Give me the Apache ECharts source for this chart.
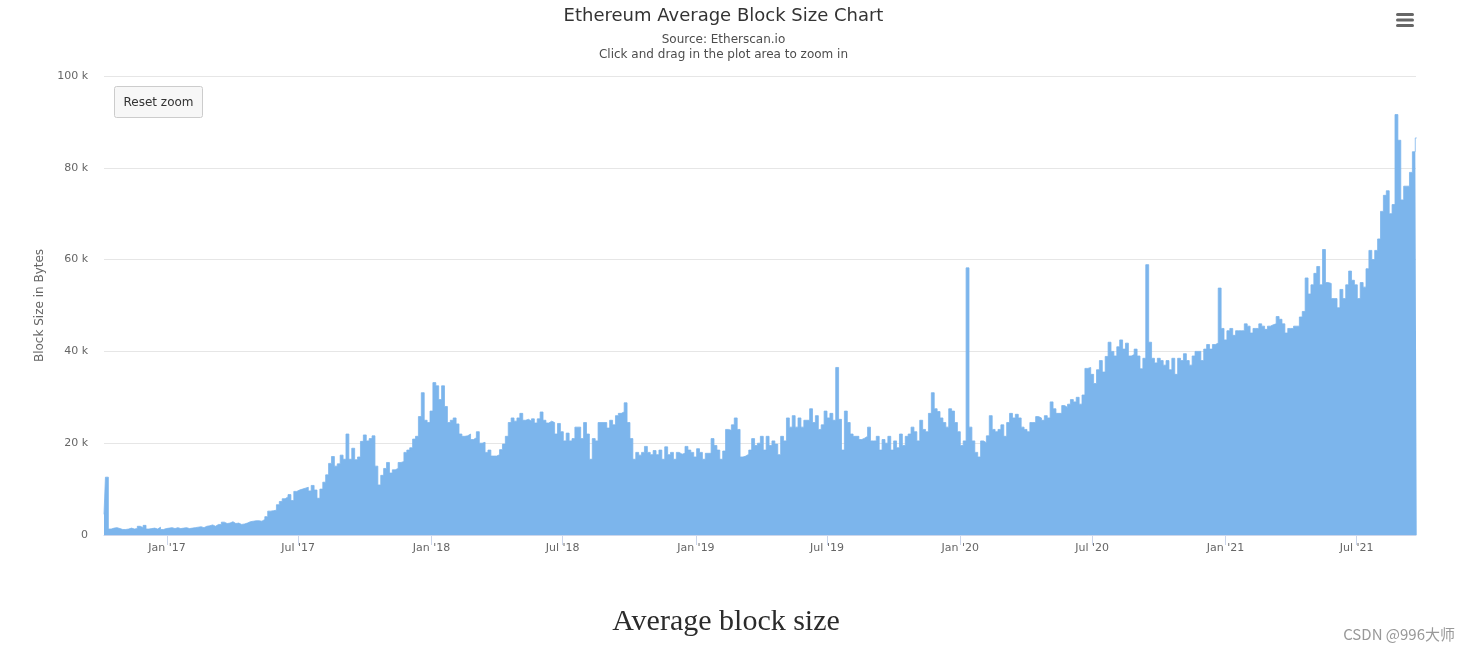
<!DOCTYPE html>
<html>
<head>
<meta charset="utf-8">
<script src="https://cdn.jsdelivr.net/npm/echarts@6/dist/echarts.min.js"></script>
<style>
html, body { margin: 0; padding: 0; background: #ffffff; }
#chart { width: 1469px; height: 650px; }
</style>
</head>
<body>
<div id="chart"></div>
<script>
// ---------- texts ----------
const chartTitle = 'Ethereum Average Block Size Chart';
const subtitleLines = ['Source: Etherscan.io', 'Click and drag in the plot area to zoom in'];
const yAxisTitle = 'Block Size in Bytes';
const resetZoomLabel = 'Reset zoom';
const captionText = 'Average block size';
const watermarkText = 'CSDN @996大师';

// ---------- axis ticks ----------
const yTickValuesK = [0, 20, 40, 60, 80, 100];
const yTickLabels = ['0', '20 k', '40 k', '60 k', '80 k', '100 k'];
const xTickDates = ['2017-01-01', '2017-07-01', '2018-01-01', '2018-07-01', '2019-01-01',
                    '2019-07-01', '2020-01-01', '2020-07-01', '2021-01-01', '2021-07-01'];
const xTickLabels = ["Jan '17", "Jul '17", "Jan '18", "Jul '18", "Jan '19",
                     "Jul '19", "Jan '20", "Jul '20", "Jan '21", "Jul '21"];
const xRangeStart = '2016-10-06';
const xRangeEnd = '2021-09-21';

// ---------- data: average block size (thousands of bytes), one reading every 4 days from 2016-10-06 ----------
const seriesStartDate = '2016-10-06';
const seriesStepDays = 4;
const avgBlockSizeK = [
  // 2016-10 .. 2017-05
  4.5, 12.6, 1.3, 1.5, 1.6, 1.4, 1.2, 1.2, 1.3, 1.5,
  1.3, 1.4, 1.9, 1.6, 2.1, 1.3, 1.4, 1.5, 1.3, 1.7,
  1.2, 1.4, 1.5, 1.6, 1.4, 1.6, 1.4, 1.5, 1.6, 1.4,
  1.5, 1.6, 1.7, 1.8, 1.6, 1.9, 2.0, 2.2, 1.9, 2.3,
  2.3, 2.8, 2.5, 2.6, 2.9, 2.5, 2.6, 2.3, 2.4, 2.6,
  2.9,
  // 2017-05 .. 2017-11
  3.0, 3.1, 3.1, 3.0, 3.4, 4.0, 5.2, 5.3, 5.4, 6.6,
  7.3, 7.9, 8.3, 8.8, 7.5, 9.5, 9.8, 10.0, 10.2, 10.4,
  9.6, 10.8, 9.8, 8.0, 10.0, 11.5, 13.1, 15.6, 17.1, 15.0,
  15.5, 17.4, 16.5, 22.0, 16.5, 18.9, 16.4, 17.0, 20.4, 21.8,
  20.5, 21.0, 21.6, 15.0, 10.9, 13.0, 14.5, 15.8, 13.5, 14.2,
  // 2017-11 .. 2018-06
  14.5, 15.8, 16.0, 18.0, 18.5, 19.0, 20.9, 21.5, 25.8, 31.0,
  25.0, 24.5, 27.0, 33.2, 32.5, 29.5, 32.5, 28.0, 24.5, 25.0,
  25.5, 24.2, 22.0, 21.5, 21.6, 22.0, 20.8, 21.2, 22.5, 20.0,
  20.2, 18.0, 18.5, 17.2, 17.2, 17.5, 18.6, 19.8, 21.5, 24.5,
  25.5, 24.8, 25.5, 26.5, 25.0, 25.2, 24.8, 25.3, 24.4, 25.3,
  26.8,
  // 2018-06 .. 2018-12
  25.0, 24.4, 24.8, 24.5, 22.0, 24.3, 22.5, 20.5, 22.2, 20.5,
  21.0, 23.5, 23.5, 21.0, 24.5, 22.0, 16.5, 21.0, 20.5, 24.5,
  24.5, 24.5, 23.3, 25.0, 24.0, 26.0, 26.5, 26.8, 28.8, 24.5,
  21.0, 16.5, 18.0, 17.4, 18.0, 19.3, 18.0, 17.5, 18.4, 17.5,
  18.5, 16.5, 19.2, 17.5, 18.0, 16.5, 18.0, 17.6, 17.8, 19.3,
  // 2018-12 .. 2019-07
  18.5, 18.0, 17.0, 18.8, 18.0, 16.5, 17.8, 17.8, 21.0, 19.5,
  18.5, 16.5, 18.3, 23.0, 22.8, 24.0, 25.5, 23.0, 17.0, 17.2,
  17.6, 18.5, 21.0, 19.5, 20.0, 21.5, 18.5, 21.5, 19.5, 20.5,
  19.8, 17.5, 21.5, 20.5, 25.5, 23.5, 26.0, 23.5, 25.5, 23.5,
  25.0, 25.0, 27.5, 24.5, 26.0, 23.0, 24.0, 27.0, 25.5, 26.5,
  25.0,
  // 2019-07 .. 2020-01
  36.5, 25.2, 18.5, 27.0, 24.5, 22.0, 21.5, 21.5, 20.8, 21.1,
  21.5, 23.5, 20.5, 20.5, 21.5, 18.5, 20.8, 20.0, 21.5, 18.5,
  20.5, 19.0, 22.0, 19.5, 21.5, 22.0, 23.5, 22.5, 20.5, 25.0,
  23.0, 22.5, 26.5, 31.0, 27.5, 26.9, 25.5, 24.5, 23.5, 27.5,
  27.0, 24.5, 22.5, 19.5, 20.5, 58.2, 23.5, 20.5, 18.0, 17.0,
  // 2020-01 .. 2020-08
  20.5, 20.1, 21.6, 26.0, 23.0, 22.5, 23.0, 24.0, 21.5, 24.5,
  26.5, 25.5, 26.3, 25.5, 23.5, 23.0, 22.5, 24.5, 24.5, 25.8,
  25.5, 25.0, 26.0, 25.5, 29.0, 27.5, 26.5, 26.5, 28.2, 27.8,
  28.5, 29.5, 29.0, 30.0, 28.5, 30.5, 36.3, 36.5, 35.0, 33.0,
  36.0, 38.0, 35.5, 38.9, 42.0, 40.0, 39.0, 41.0, 42.5, 40.5,
  // 2020-08 .. 2021-02
  41.8, 39.0, 39.3, 40.5, 39.0, 36.2, 38.5, 58.9, 42.0, 38.5,
  37.5, 38.5, 38.0, 37.0, 38.0, 36.0, 38.5, 35.0, 38.5, 38.0,
  39.5, 38.0, 37.0, 39.0, 40.0, 40.0, 38.0, 40.5, 41.5, 40.5,
  41.5, 41.8, 53.8, 45.0, 42.5, 44.5, 45.0, 43.5, 44.5, 44.5,
  44.5, 46.0, 45.5, 44.0, 45.0, 45.0, 46.0, 45.5, 44.8, 45.5,
  45.8,
  // 2021-03 .. 2021-09
  46.0, 47.6, 47.0, 46.0, 44.0, 45.0, 45.0, 45.5, 45.5, 47.5,
  48.7, 56.0, 52.5, 54.5, 57.0, 58.5, 54.5, 62.2, 55.0, 54.8,
  51.5, 51.5, 49.5, 53.5, 51.5, 54.5, 57.5, 55.5, 54.5, 51.5,
  55.0, 54.0, 58.0, 62.0, 60.0, 62.0, 64.5, 70.5, 74.0, 75.0,
  70.0, 72.0, 91.6, 86.0, 73.0, 76.0, 76.0, 79.0, 83.5, 86.5
];

// ---------- build ----------
function localTime(dateStr) {
  const [y, m, d] = dateStr.split('-').map(Number);
  return new Date(y, m - 1, d).getTime();
}
const xTickTimes = xTickDates.map(localTime);
const startParts = seriesStartDate.split('-').map(Number);
const seriesData = avgBlockSizeK.map((v, i) => [
  new Date(startParts[0], startParts[1] - 1, startParts[2] + i * seriesStepDays).getTime(), v
]);

const baseFont = '"DejaVu Sans", "Lucida Grande", Arial, sans-serif';
const barColor = '#7cb5ec';

const chart = echarts.init(document.getElementById('chart'), null, { renderer: 'canvas' });
chart.setOption({
  animation: false,
  backgroundColor: '#ffffff',
  grid: { left: 104, right: 53, top: 76, bottom: 115, containLabel: false },
  xAxis: {
    type: 'value',
    min: localTime(xRangeStart),
    max: localTime(xRangeEnd),
    axisLine: { show: true, onZero: false, lineStyle: { color: '#ccd6eb', width: 1 } },
    axisTick: {
      show: true, length: 10, customValues: xTickTimes,
      lineStyle: { color: '#ccd6eb', width: 1 }
    },
    axisLabel: {
      show: true, customValues: xTickTimes, margin: 8,
      color: '#666666', fontSize: 11, fontFamily: baseFont,
      showMinLabel: true, showMaxLabel: true,
      formatter: (val) => {
        let best = -1, bestD = Infinity;
        xTickTimes.forEach((t, i) => { const d = Math.abs(t - val); if (d < bestD) { bestD = d; best = i; } });
        return bestD < 86400000 * 2 ? xTickLabels[best] : '';
      }
    },
    splitLine: { show: false }
  },
  yAxis: {
    type: 'value',
    min: 0, max: 100, interval: 20,
    name: yAxisTitle,
    nameLocation: 'middle',
    nameGap: 56,
    nameRotate: 90,
    nameTextStyle: { color: '#666666', fontSize: 12, fontFamily: baseFont },
    axisLine: { show: false },
    axisTick: { show: false },
    axisLabel: {
      margin: 16, color: '#666666', fontSize: 11, fontFamily: baseFont,
      formatter: (v) => { const i = yTickValuesK.indexOf(v); return i >= 0 ? yTickLabels[i] : ''; }
    },
    splitLine: { show: true, lineStyle: { color: '#e6e6e6', width: 1 } }
  },
  series: [{
    type: 'line',
    name: 'Average Block Size',
    data: seriesData,
    step: 'middle',
    symbol: 'none',
    showSymbol: false,
    clip: true,
    lineStyle: { color: barColor, width: 0.8 },
    areaStyle: { color: barColor, opacity: 1 },
    itemStyle: { color: barColor }
  }],
  graphic: [
    { type: 'text', x: 723.5, y: 16, style: { text: chartTitle, textAlign: 'center', textVerticalAlign: 'middle', fill: '#333333', font: '18px ' + baseFont } },
    { type: 'text', x: 723.5, y: 40, style: { text: subtitleLines[0], textAlign: 'center', textVerticalAlign: 'middle', fill: '#4d4d4d', font: '12px ' + baseFont } },
    { type: 'text', x: 723.5, y: 55, style: { text: subtitleLines[1], textAlign: 'center', textVerticalAlign: 'middle', fill: '#4d4d4d', font: '12px ' + baseFont } },
    { type: 'rect', shape: { x: 114.5, y: 86.5, width: 88, height: 31, r: 2 }, style: { fill: '#f7f7f7', stroke: '#cccccc', lineWidth: 1 } },
    { type: 'text', x: 158.5, y: 102.5, style: { text: resetZoomLabel, textAlign: 'center', textVerticalAlign: 'middle', fill: '#333333', font: '12px ' + baseFont } },
    { type: 'rect', shape: { x: 1396, y: 13, width: 18, height: 3, r: 1.5 }, style: { fill: '#666666' } },
    { type: 'rect', shape: { x: 1396, y: 18.5, width: 18, height: 3, r: 1.5 }, style: { fill: '#666666' } },
    { type: 'rect', shape: { x: 1396, y: 24, width: 18, height: 3, r: 1.5 }, style: { fill: '#666666' } },
    { type: 'text', x: 726, y: 622, style: { text: captionText, textAlign: 'center', textVerticalAlign: 'middle', fill: '#2b2b2b', font: '30px "Liberation Serif", "DejaVu Serif", serif' } },
    { type: 'text', x: 1455, y: 634, style: { text: watermarkText, textAlign: 'right', textVerticalAlign: 'middle', fill: '#999999', font: '15px "Noto Sans CJK SC", "Noto Sans", sans-serif' } }
  ]
});
</script>
</body>
</html>
